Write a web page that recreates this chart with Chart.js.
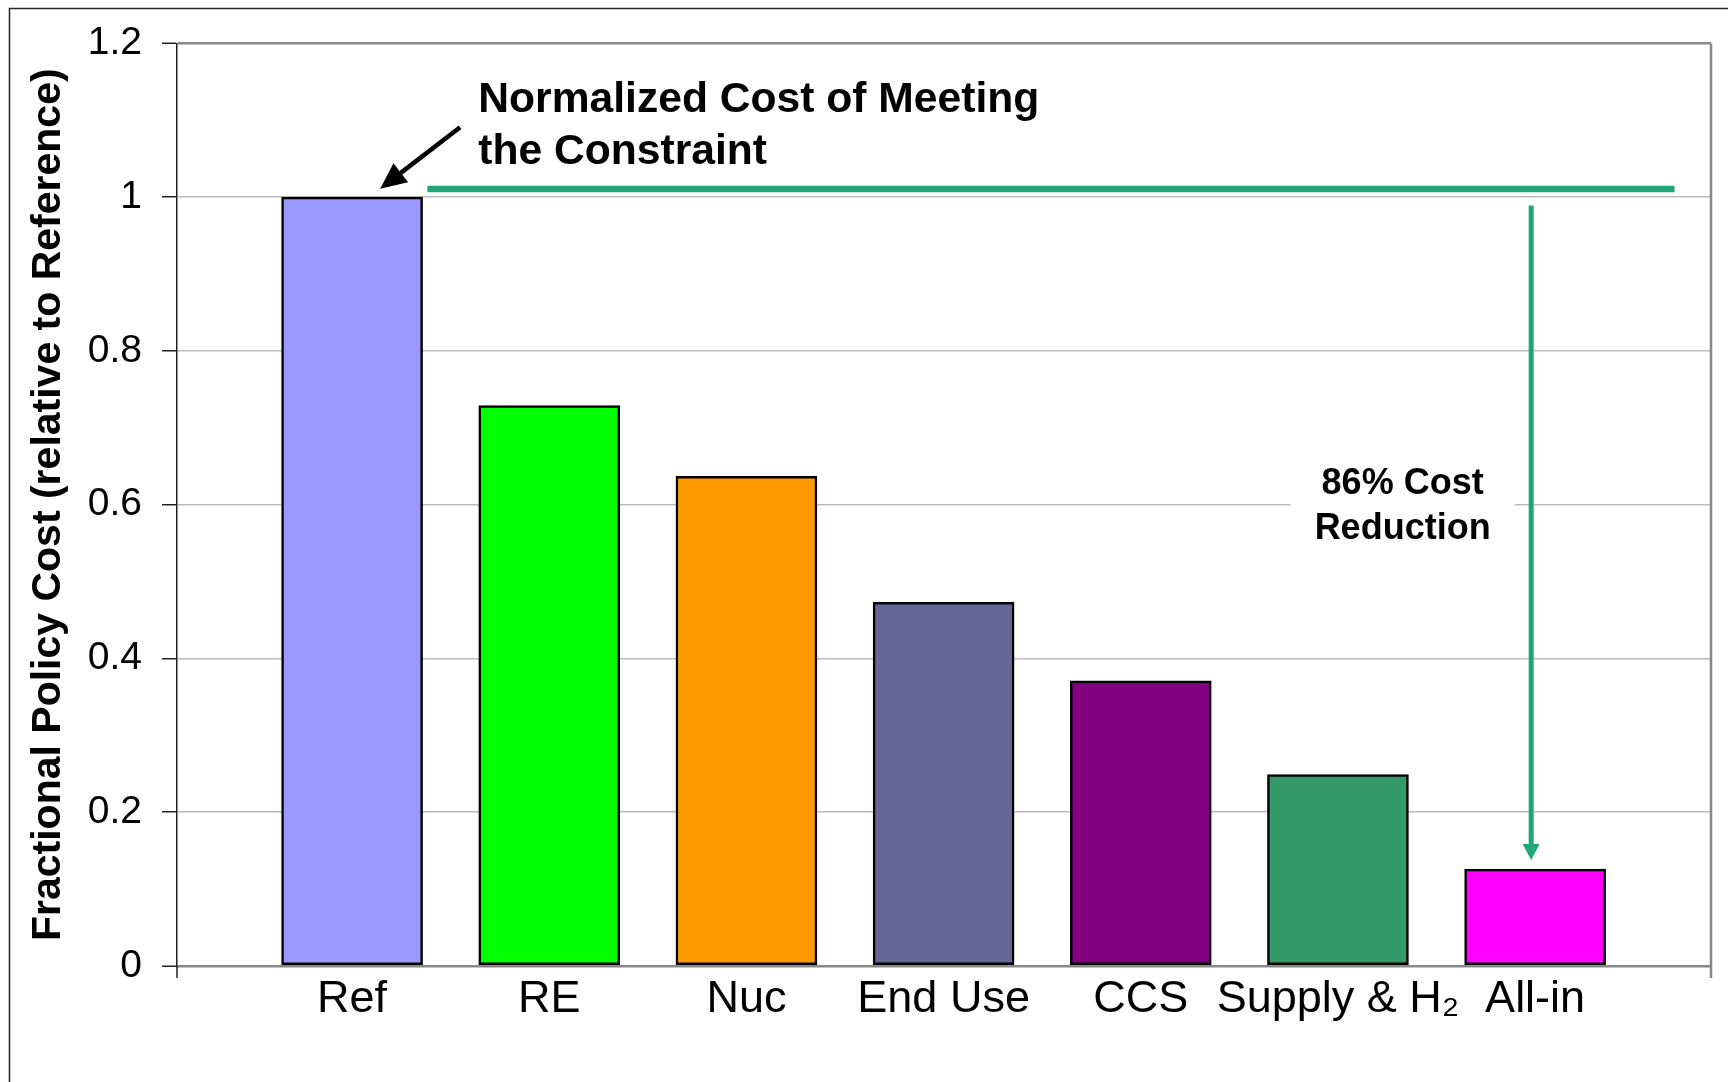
<!DOCTYPE html>
<html>
<head>
<meta charset="utf-8">
<title>Fractional Policy Cost</title>
<script src="https://cdn.jsdelivr.net/npm/chart.js@4.4.1/dist/chart.umd.min.js"></script>
<style>
    html, body {
        margin: 0;
        padding: 0;
        background: #fff;
    }

    .chart-container {
        position: relative;
        width: 1728px;
        height: 1082px;
    }

    canvas {
        display: block;
    }
</style>
</head>
<body>
<div class="chart-container">
    <canvas id="chart" width="1728" height="1082"></canvas>
</div>
<script>
// Chart data
const categories = ['Ref', 'RE', 'Nuc', 'End Use', 'CCS', 'Supply & H\u2082', 'All-in'];
const policyCost = [1.0, 0.729, 0.637, 0.473, 0.371, 0.249, 0.126];
const barColors = ['#9999ff', '#00ff00', '#ff9900', '#666699', '#800080', '#339966', '#ff00ff'];
const yTicks = [0, 0.2, 0.4, 0.6, 0.8, 1, 1.2];
const yTitle = 'Fractional Policy Cost (relative to Reference)';
const noteConstraint = ['Normalized Cost of Meeting', 'the Constraint'];
const noteReduction = ['86% Cost', 'Reduction'];

const FONT = "'Liberation Sans', Arial, Helvetica, sans-serif";
const GREEN = '#1fa67a';

function drawArrow(c, x1, y1, x2, y2, width, headLen, headW, color) {
    const a = Math.atan2(y2 - y1, x2 - x1);
    const bx = x2 - headLen * Math.cos(a);
    const by = y2 - headLen * Math.sin(a);
    c.strokeStyle = color;
    c.lineWidth = width;
    c.beginPath();
    c.moveTo(x1, y1);
    c.lineTo(bx, by);
    c.stroke();
    c.fillStyle = color;
    c.beginPath();
    c.moveTo(x2, y2);
    c.lineTo(bx + headW / 2 * Math.sin(a), by - headW / 2 * Math.cos(a));
    c.lineTo(bx - headW / 2 * Math.sin(a), by + headW / 2 * Math.cos(a));
    c.closePath();
    c.fill();
}

const decorPlugin = {
    id: 'decor',
    beforeDraw(chart) {
        const c = chart.ctx;
        c.save();
        c.fillStyle = '#fff';
        c.fillRect(0, 0, chart.width, chart.height);
        // outer frame of the original figure (only left and top are in view)
        c.strokeStyle = '#222';
        c.lineWidth = 1.5;
        c.beginPath();
        c.moveTo(9.5, chart.height);
        c.lineTo(9.5, 8.5);
        c.lineTo(chart.width, 8.5);
        c.stroke();
        c.restore();
    },
    afterDraw(chart) {
        const c = chart.ctx;
        const area = chart.chartArea;
        const xs = chart.scales.x;
        const ys = chart.scales.y;
        c.save();

        // right border of plot + little end ticks below the x axis
        c.strokeStyle = '#888';
        c.lineWidth = 2.5;
        c.beginPath();
        c.moveTo(area.right, area.top);
        c.lineTo(area.right, area.bottom + 12);
        c.stroke();
        c.strokeStyle = '#222';
        c.lineWidth = 1.5;
        c.beginPath();
        c.moveTo(area.left, area.bottom);
        c.lineTo(area.left, area.bottom + 12);
        c.stroke();

        // y axis title
        c.save();
        c.translate(60, (area.top + area.bottom) / 2);
        c.rotate(-Math.PI / 2);
        c.font = 'bold 41px ' + FONT;
        c.fillStyle = '#000';
        c.textAlign = 'center';
        c.textBaseline = 'alphabetic';
        c.fillText(yTitle, 0, 0);
        c.restore();

        // reduction note with white box (under the arrows)
        const rx = xs.getPixelForValue(5.328);
        c.fillStyle = '#fff';
        c.fillRect(rx - 112, ys.getPixelForValue(0.665), 224, 100);
        c.fillStyle = '#000';
        c.font = 'bold 36px ' + FONT;
        c.textAlign = 'center';
        c.textBaseline = 'alphabetic';
        c.fillText(noteReduction[0], rx, ys.getPixelForValue(0.6137));
        c.fillText(noteReduction[1], rx, ys.getPixelForValue(0.5557));

        // green constraint line
        c.strokeStyle = GREEN;
        c.lineWidth = 6.5;
        c.beginPath();
        c.moveTo(xs.getPixelForValue(0.382), ys.getPixelForValue(1.0105));
        c.lineTo(xs.getPixelForValue(6.707), ys.getPixelForValue(1.0105));
        c.stroke();

        // green reduction arrow
        drawArrow(c,
            xs.getPixelForValue(5.98), ys.getPixelForValue(0.989),
            xs.getPixelForValue(5.98), ys.getPixelForValue(0.138),
            5, 16, 17, GREEN);

        // black pointer to the Ref bar
        drawArrow(c,
            xs.getPixelForValue(0.548), ys.getPixelForValue(1.091),
            xs.getPixelForValue(0.1425), ys.getPixelForValue(1.011),
            4.5, 26, 24, '#000');

        // top note
        c.fillStyle = '#000';
        c.font = 'bold 42px ' + FONT;
        c.textAlign = 'left';
        const sx = 561 / c.measureText(noteConstraint[0]).width;
        const nx = xs.getPixelForValue(0.64);
        [1.1112, 1.0431].forEach((v, i) => {
            c.save();
            c.translate(nx, ys.getPixelForValue(v));
            c.scale(sx, 1);
            c.fillText(noteConstraint[i], 0, 0);
            c.restore();
        });

        c.restore();
    }
};

const ctx = document.getElementById('chart').getContext('2d');
const chart = new Chart(ctx, {
    type: 'bar',
    data: {
        datasets: [{
            data: categories.map((c, i) => ({ x: i, y: policyCost[i] })),
            backgroundColor: barColors,
            borderColor: '#000',
            borderWidth: 2.5,
            borderSkipped: false,
            barThickness: 141
        }]
    },
    options: {
        responsive: false,
        animation: false,
        layout: {
            padding: { top: 40, right: 17, left: 0, bottom: 0 }
        },
        plugins: {
            legend: { display: false },
            tooltip: { enabled: false }
        },
        scales: {
            x: {
                type: 'linear',
                offset: false,
                min: -0.888,
                max: 6.892,
                grid: { display: false, drawTicks: false, offset: false },
                border: { color: '#888', width: 2 },
                afterBuildTicks: (s) => {
                    s.ticks = categories.map((c, i) => ({ value: i }));
                },
                ticks: {
                    callback: (v) => categories[v],
                    font: { family: FONT, size: 45 },
                    color: '#000',
                    padding: 7,
                    maxRotation: 0,
                    minRotation: 0,
                    autoSkip: false
                },
                afterFit: (s) => { s.height = 116; }
            },
            y: {
                min: 0,
                max: 1.2,
                afterBuildTicks: (s) => {
                    s.ticks = yTicks.map(v => ({ value: v }));
                },
                ticks: {
                    callback: (v) => String(v),
                    font: { family: FONT, size: 39 },
                    color: '#000',
                    padding: 20
                },
                grid: {
                    color: (c) => (c.tick && (c.tick.value === 1.2 || c.tick.value === 0)) ? '#888' : '#bbb',
                    lineWidth: (c) => (c.tick && (c.tick.value === 1.2 || c.tick.value === 0)) ? 2.5 : 1.5,
                    tickColor: '#222',
                    tickLength: 15,
                    tickWidth: 1.5
                },
                border: { color: '#222', width: 1.5 },
                afterFit: (s) => { s.width = 177; }
            }
        }
    },
    plugins: [decorPlugin]
});
</script>
</body>
</html>
